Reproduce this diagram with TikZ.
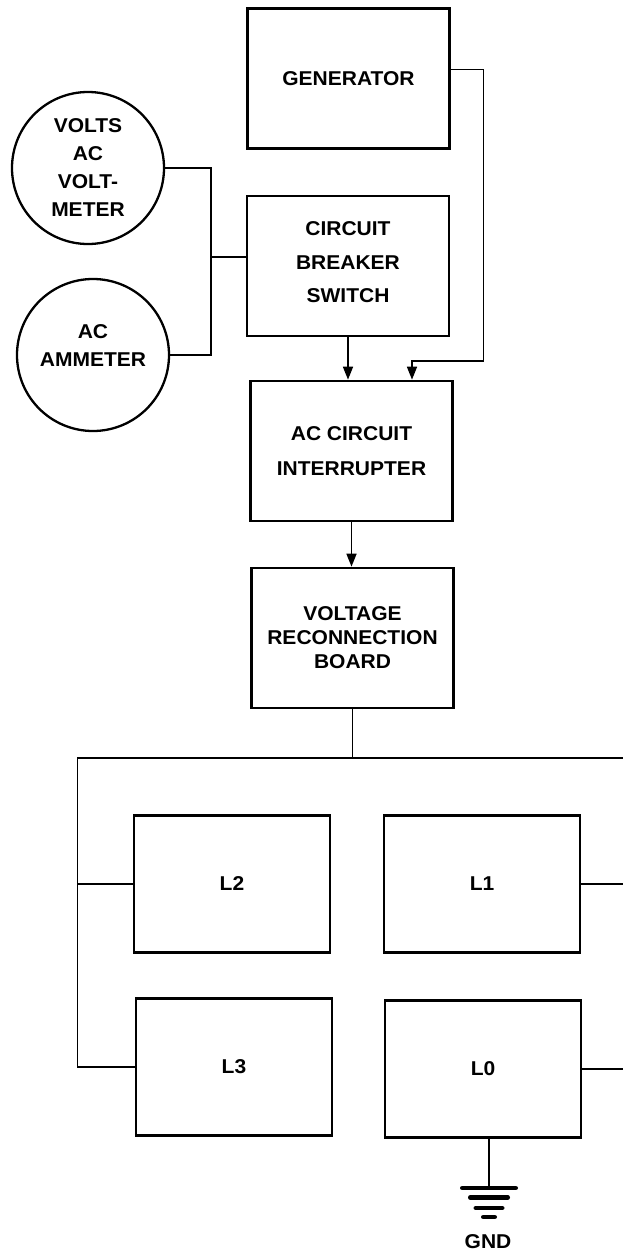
\documentclass[tikz,border=0pt]{standalone}
\usepackage{fontspec}
\setmainfont{Liberation Sans}[FakeStretch=1.05]
\usetikzlibrary{arrows.meta,calc}
\tikzset{
  blk/.style ={draw=black,line width=2.7pt,fill=white,align=center,inner sep=2pt,
               minimum width=202pt,minimum height=140pt,font=\bfseries\fontsize{20}{24}\selectfont},
  lod/.style ={blk,minimum width=196pt,minimum height=137pt},
  mtr/.style ={circle,draw=black,line width=2.3pt,align=center,inner sep=0pt,
               minimum size=152pt,font=\bfseries\fontsize{20}{24}\selectfont},
  wire/.style={draw=black,line width=1.7pt},
  sig/.style ={wire,-{Triangle[length=13pt,width=10pt]}},
  gbar/.style={draw=black,line width=4.5pt,line cap=round},
  tag/.style ={font=\bfseries\fontsize{20}{24}\selectfont,inner sep=0pt},
}
\begin{document}
\begin{tikzpicture}[x=1pt,y=-1pt]
\useasboundingbox (0,0) rectangle (623,1251);

% ===== main chain ==========================================================
\node[blk] (gen) at (348.5,78.5) {GENERATOR};
\node[blk,text depth=7pt] (cb) at (348,266) {CIRCUIT\\[9.5pt]BREAKER\\[9.5pt]SWITCH};
\node[blk] (aci) at (351.5,451)  {AC CIRCUIT\\[11pt]INTERRUPTER};
\node[blk] (vrb) at (352.5,638)  {VOLTAGE\\RECONNECTION\\BOARD};

% ===== meters ==============================================================
\node[mtr] (volts) at (88,168) {VOLTS\\[4pt]AC\\[4pt]VOLT-\\[4pt]METER};
\node[mtr,text depth=18pt] (amm) at (93,355) {AC\\[4pt]AMMETER};

% ===== loads ===============================================================
\node[lod] (L2) at (232,884)  {L2};
\node[lod] (L1) at (482,884)  {L1};
\node[lod] (L3) at (234,1067) {L3};
\node[lod] (L0) at (483,1069) {L0};

% ===== connectors ==========================================================
\coordinate (gtap) at (483.5,361);
\draw[sig] (gen.5) -| (gtap) -| ($(aci.north)+(60.5,0)$);
\draw[sig] (cb.south) -- (cb.south |- aci.north);
\draw[sig] (aci.south) -- (aci.south |- vrb.north);

\coordinate (jct) at ($(cb.west)+(-35,-9)$);
\draw[wire] (cb.west |- jct) -- (jct);
\draw[wire] (volts.east) -| (jct) |- (amm.east);

% ===== distribution bus ====================================================
\coordinate (busL) at (77.5,758);
\coordinate (busR) at (623,758);
\draw[wire] (vrb.south) -- (vrb.south |- busR);
\draw[wire] (busR) -- (busL) |- (L3.west);
\draw[wire] (busL |- L2.west) -- (L2.west);
\draw[wire] (L1.east) -- (L1.east -| busR);
\draw[wire] (L0.east) -- (L0.east -| busR);

% ===== ground ==============================================================
\coordinate (gnd) at (489,1188);
\draw[wire] (L0.south -| gnd) -- (gnd);
\foreach \h/\d in {26.75/0, 18.75/9.5, 13.25/20, 5.75/29}{\draw[gbar] ($(gnd)+(-\h,\d)$) -- ($(gnd)+(\h,\d)$);}
\node[tag] (gndlbl) at (488,1242) {GND};
\end{tikzpicture}
\end{document}
